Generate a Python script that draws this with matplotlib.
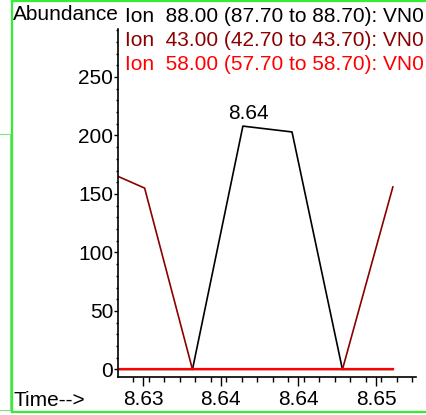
import matplotlib.pyplot as plt
from matplotlib.ticker import FixedLocator, MultipleLocator
from matplotlib.lines import Line2D

plt.rcParams["font.family"] = ["Liberation Sans", "DejaVu Sans"]

# scan times (min) and abundances of the three ions
times = [8.6262, 8.6301, 8.6338, 8.6377, 8.6415, 8.6454, 8.6493]
ion88 = [0, 0, 0, 208, 203, 0, 0]
ion43 = [174, 155, 0, 0, 0, 0, 156]
ion58 = [0, 0, 0, 0, 0, 0, 0]

legend_texts = [
    "Ion  88.00 (87.70 to 88.70): VN0",
    "Ion  43.00 (42.70 to 43.70): VN0",
    "Ion  58.00 (57.70 to 58.70): VN0",
]
ion_colors = ["black", "#8b0000", "#ff0000"]

x_ticks = [8.630, 8.636, 8.642, 8.648]
x_tick_labels = ["8.63", "8.64", "8.64", "8.65"]
y_ticks = [0, 50, 100, 150, 200, 250]
peak_label = "8.64"

FS = 15
W, H = 426, 415
fig = plt.figure(figsize=(W / 100, H / 100), dpi=100)

# axes placed in pixel terms
ax = fig.add_axes([118 / W, (H - 376.7) / H, (416 - 118) / W, (376.7 - 29) / H])
ax.plot(times, ion88, color=ion_colors[0], lw=1.2)
ax.plot(times, ion43, color=ion_colors[1], lw=1.2)
ax.plot(times, ion58, color=ion_colors[2], lw=1.6)

ax.set_xlim(8.62804, 8.65109)
ax.set_ylim(-6.2, 291)

ax.spines["top"].set_visible(False)
ax.spines["right"].set_visible(False)
ax.spines["left"].set_linewidth(1.2)
ax.spines["bottom"].set_linewidth(1.2)

ax.xaxis.set_major_locator(FixedLocator(x_ticks))
ax.set_xticklabels(x_tick_labels)
ax.xaxis.set_minor_locator(MultipleLocator(0.0012))
ax.yaxis.set_major_locator(FixedLocator(y_ticks))
ax.yaxis.set_minor_locator(MultipleLocator(10))

ax.tick_params(axis="x", which="major", length=6.5, width=1.0, labelsize=FS, pad=3)
ax.tick_params(axis="x", which="minor", length=3.5, width=1.0)
ax.tick_params(axis="y", which="major", length=3, width=1.0, labelsize=FS, pad=0.5)
ax.tick_params(axis="y", which="minor", length=1.2, width=1.0)

# peak annotation
i_peak = ion88.index(max(ion88))
ax.annotate(peak_label, (times[i_peak], ion88[i_peak]), xytext=(4, 2),
            textcoords="offset points", ha="center", va="bottom", fontsize=FS)

# header texts
fig.text(13 / W, 1 - 15 / H, "Abundance", fontsize=FS, va="center", ha="left")
fig.text(13 / W, 1 - 400 / H, "Time-->", fontsize=FS, va="center", ha="left")
for k, (txt, c) in enumerate(zip(legend_texts, ion_colors)):
    fig.text(125 / W, 1 - (17 + 23.5 * k) / H, txt, color=c, fontsize=FS,
             va="center", ha="left")

# green window frame
green = "#33ee33"
for xs, ys in [([11.5, 11.5], [1, 412]), ([11.5, 426], [1, 1]), ([11.5, 426], [412, 412])]:
    fig.add_artist(Line2D([x / W for x in xs], [1 - y / H for y in ys],
                          color=green, lw=1.6, transform=fig.transFigure))
for xs, ys in [([0, 10], [134, 134]), ([0, 10], [410, 410]), ([9.5, 9.5], [134, 410])]:
    fig.add_artist(Line2D([x / W for x in xs], [1 - y / H for y in ys],
                          color="#88dd88", lw=0.8, transform=fig.transFigure))

fig.savefig("out.png", dpi=100)
